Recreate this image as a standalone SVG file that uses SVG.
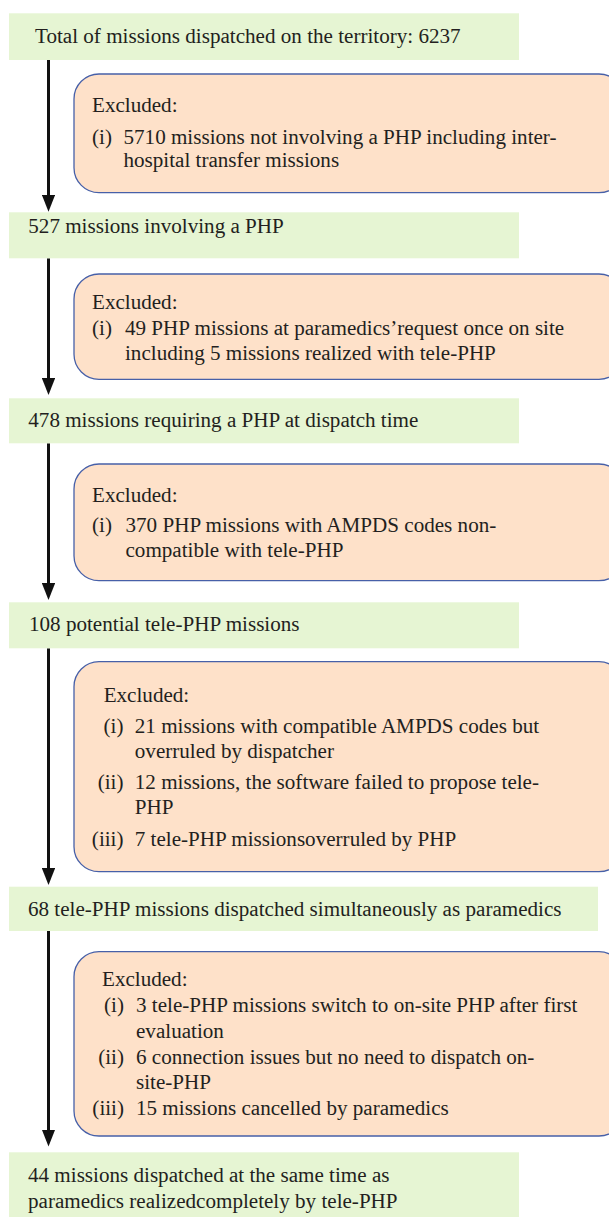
<svg xmlns="http://www.w3.org/2000/svg" width="609" height="1217" viewBox="0 0 609 1217">
<style>
.g{fill:#e6f5d3;stroke:none}
.o{fill:#fee1c9;stroke:#4760a8;stroke-width:1.3}
text{font-family:"Liberation Serif","Times New Roman",serif;font-size:21.1px;fill:#231f20}
.c{stroke:#111;stroke-width:3;fill:none}
</style>
<defs>
<marker id="ah" viewBox="0 0 17 13.4" refX="13" refY="6.7" markerWidth="17" markerHeight="13.4" markerUnits="userSpaceOnUse" orient="auto">
<path d="M0,0 L17,6.7 L0,13.4 z" fill="#111"/>
</marker>
</defs>
<rect width="609" height="1217" fill="#fff"/>
<g id="connectors">
<line class="c" x1="48.5" y1="60" x2="48.5" y2="207.7" marker-end="url(#ah)"/>
<line class="c" x1="48.5" y1="258.3" x2="48.5" y2="391" marker-end="url(#ah)"/>
<line class="c" x1="48.5" y1="443.3" x2="48.5" y2="596" marker-end="url(#ah)"/>
<line class="c" x1="48.5" y1="648.3" x2="48.5" y2="881" marker-end="url(#ah)"/>
<line class="c" x1="48.5" y1="931" x2="48.5" y2="1142.5" marker-end="url(#ah)"/>
</g>
<g id="n1">
<rect class="g" x="9" y="13.3" width="510" height="46.7"/>
<text x="35" y="43.3">Total of missions dispatched on the territory: 6237</text>
</g>
<g id="x1">
<rect class="o" x="74" y="74" width="550" height="118.7" rx="25" ry="25"/>
<text x="92" y="111.7">Excluded:</text>
<text x="92" y="144">(i)</text>
<text x="123.5" y="144">5710 missions not involving a PHP including inter-</text>
<text x="123.5" y="167.3">hospital transfer missions</text>
</g>
<g id="n2">
<rect class="g" x="9" y="212.3" width="510" height="46"/>
<text x="28.3" y="233.3">527 missions involving a PHP</text>
</g>
<g id="x2">
<rect class="o" x="74" y="274" width="550" height="105.3" rx="25" ry="25"/>
<text x="92" y="309.3">Excluded:</text>
<text x="92" y="335">(i)</text>
<text x="125" y="335">49 PHP missions at paramedics’request once on site</text>
<text x="125" y="360">including 5 missions realized with tele-PHP</text>
</g>
<g id="n3">
<rect class="g" x="9" y="398.3" width="510" height="45"/>
<text x="28.3" y="426.7">478 missions requiring a PHP at dispatch time</text>
</g>
<g id="x3">
<rect class="o" x="74" y="464" width="550" height="116.7" rx="25" ry="25"/>
<text x="92" y="501.7">Excluded:</text>
<text x="92" y="531.7">(i)</text>
<text x="125.5" y="531.7">370 PHP missions with AMPDS codes non-</text>
<text x="125.5" y="556.7">compatible with tele-PHP</text>
</g>
<g id="n4">
<rect class="g" x="9" y="602.3" width="510" height="46"/>
<text x="29" y="631">108 potential tele-PHP missions</text>
</g>
<g id="x4">
<rect class="o" x="74" y="661.7" width="550" height="210" rx="25" ry="25"/>
<text x="103.7" y="701.7">Excluded:</text>
<text x="123.5" y="732.7" text-anchor="end">(i)</text>
<text x="134.8" y="732.7">21 missions with compatible AMPDS codes but</text>
<text x="134.8" y="757.7">overruled by dispatcher</text>
<text x="123.5" y="789.3" text-anchor="end">(ii)</text>
<text x="134.8" y="789.3">12 missions, the software failed to propose tele-</text>
<text x="134.8" y="814.3">PHP</text>
<text x="123.5" y="846" text-anchor="end">(iii)</text>
<text x="134.8" y="846">7 tele-PHP missionsoverruled by PHP</text>
</g>
<g id="n5">
<rect class="g" x="9" y="886.7" width="589" height="44.3"/>
<text x="28" y="916">68 tele-PHP missions dispatched simultaneously as paramedics</text>
</g>
<g id="x5">
<rect class="o" x="74" y="951.7" width="550" height="184.3" rx="25" ry="25"/>
<text x="102" y="986">Excluded:</text>
<text x="124" y="1012.3" text-anchor="end">(i)</text>
<text x="136" y="1012.3">3 tele-PHP missions switch to on-site PHP after first</text>
<text x="136" y="1038.3">evaluation</text>
<text x="124" y="1064" text-anchor="end">(ii)</text>
<text x="136" y="1064">6 connection issues but no need to dispatch on-</text>
<text x="136" y="1089.3">site-PHP</text>
<text x="124" y="1115" text-anchor="end">(iii)</text>
<text x="136" y="1115">15 missions cancelled by paramedics</text>
</g>
<g id="n6">
<rect class="g" x="9" y="1152.3" width="510" height="64.7"/>
<text x="28" y="1181.7">44 missions dispatched at the same time as</text>
<text x="28" y="1207.7">paramedics realizedcompletely by tele-PHP</text>
</g>
</svg>
